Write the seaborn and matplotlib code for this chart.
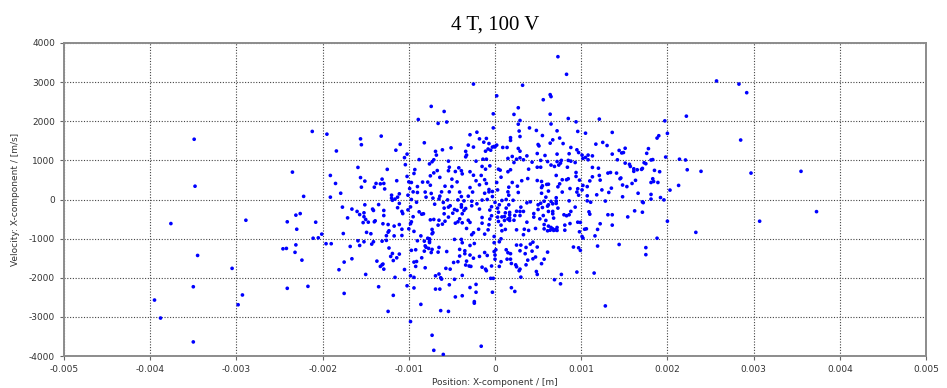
import matplotlib
matplotlib.use("Agg")
import matplotlib.pyplot as plt
import seaborn as sns
import pandas as pd

# Positions in mm (converted to metres below), velocities in m/s
far_left = [(-3.49,1540),(-3.48,340),(-3.76,-615),(-2.89,-530),(-3.45,-1430),(-3.05,-1760),(-3.50,-2230),
    (-3.95,-2570),(-3.88,-3030),(-2.93,-2440),(-2.98,-2690),(-3.50,-3640),(-2.12,1740),(-2.35,700),(-2.22,80),
    (-2.26,-360),(-2.31,-400),(-2.41,-570),(-2.08,-580),(-2.30,-760),(-2.11,-990),(-2.05,-980),(-2.46,-1260),
    (-2.42,-1250),(-2.31,-1160),(-2.32,-1350),(-2.24,-1550),(-2.41,-2270),(-2.17,-2220)]

far_right = [(2.57,3030),(2.83,2950),(2.92,2730),(2.22,2130),(2.85,1520),(2.97,675),(3.55,720),(3.73,-310),
    (3.07,-555),(2.33,-840),(2.39,720),(2.23,760),(2.14,1030),(2.21,1010),(2.13,360),(2.03,240),(2.00,-555),
    (1.88,-990),(1.75,-1230),(1.75,-1410),(1.98,1085),(2.00,1690),(1.97,2010),(1.90,1630),(1.88,1570),
    (1.78,1300),(1.76,1180),(1.83,1020),(1.81,1010),(1.85,745),(1.91,710),(1.83,530),(1.84,460),(1.89,435),
    (1.81,435),(1.73,940),(1.75,915),(1.71,795),(1.70,770),(1.65,760),(1.61,720),(1.61,785),(1.57,845),
    (1.56,900),(1.51,930),(1.51,1310),(1.49,1200),(1.47,1190),(1.46,550),(1.48,370),(1.53,330),(1.59,410),
    (1.63,490),(1.66,160),(1.92,50),(1.96,-10),(1.81,10),(1.81,130),(1.71,-60),(1.72,-80),(1.62,-290),
    (1.71,-325),(1.54,-445),(1.48,70)]

upper_left = [(-1.95,1670),(-1.56,1550),(-1.55,1400),(-1.32,1620),(-1.84,1240),(-1.10,1410),(-1.15,1260),
    (-1.05,1070),(-1.59,820),(-1.91,615),(-1.56,560),(-1.51,470),(-1.85,410),(-1.55,315),(-1.31,520),
    (-1.25,770),(-1.14,480),(-1.04,890),(-1.29,410),(-1.33,400),(-1.38,410),(-1.40,315),(-1.28,270),
    (-1.79,160),(-1.11,145),(-1.20,110),(-1.20,35),(-1.91,60),(-1.16,10),(-1.13,60)]

upper_mid = [(-0.25,2950),(0.32,2920),(0.02,2650),(-0.74,2380),(-0.59,2250),(-0.89,2045),(-0.66,1945),
    (-0.56,1980),(-0.02,2190),(0.22,2175),(0.27,2345),(0.29,2020),(0.27,1925),(0.40,1830),(0.48,1765),
    (0.28,1750),(0.29,1610),(0.18,1580),(0.18,1510),(-0.02,1830),(-0.29,1655),(-0.21,1720),(-0.18,1550),
    (-0.13,1465),(-0.10,1560),(-0.07,1430),(-0.03,1340),(0.00,1345),(0.02,1390),(-0.01,1355),(-0.05,1260),
    (-0.11,1235),(-0.08,1290),(-0.31,1390),(-0.25,1340),(-0.34,1230),(-0.34,1090),(-0.33,1135),(-0.51,1320),
    (-0.61,1270),(-0.82,1450),(-1.02,1160),(-0.69,1230),(-0.68,1135),(-0.88,1020),(-0.71,1015),(-0.73,965),
    (-0.54,980),(-0.22,980),(-0.14,1030),(-0.10,1030),(0.09,1330),(0.14,1330),(0.15,1050),(0.20,1100),
    (0.22,945),(0.25,1030),(0.29,1065),(0.33,1015),(0.37,1115),(0.43,955),(0.49,1175),(0.50,1405),
    (0.27,1305),(0.29,1235),(0.39,775),(0.49,485),(0.31,480),(0.38,535),(0.26,340),(0.27,180),(0.20,435),
    (0.16,315),(0.15,195),(0.16,110),(0.15,710),(0.18,760),(0.06,750),(0.04,775),(0.07,570),(0.02,435),
    (0.03,245),(-0.06,860),(-0.11,775),(-0.15,845),(-0.16,615),(-0.12,505),(-0.10,410),(-0.07,255),
    (-0.07,195),(-0.03,205),(-0.03,75),(-0.12,160),(-0.18,375),(-0.22,480),(-0.25,620),(-0.29,710),
    (-0.29,305),(-0.26,190),(-0.31,85),(-0.39,75),(-0.41,190),(-0.38,655),(-0.39,735),(-0.46,715),
    (-0.42,810),(-0.53,825),(-0.54,735),(-0.50,520),(-0.44,450),(-0.50,330),(-0.58,340),(-0.62,195),
    (-0.64,85),(-0.53,195),(-0.67,740),(-0.71,680),(-0.75,605),(-0.76,910),(-0.93,765),(-0.94,665),
    (-1.02,590),(-1.00,450),(-0.97,435),(-0.84,445),(-0.78,445),(-0.75,365),(-0.90,330),(-0.81,190),
    (-0.74,155),(-0.72,35),(-0.80,60),(-0.90,180),(-0.95,195),(-0.99,280),(-1.01,110),(-0.64,565)]

upper_right = [(0.73,3650),(0.83,3200),(0.64,2680),(0.65,2630),(0.56,2550),(0.64,2180),(0.85,2070),
    (0.65,1930),(0.94,1985),(1.21,2055),(0.55,1635),(0.72,1755),(0.96,1740),(1.05,1695),(1.36,1715),
    (0.64,1440),(0.75,1570),(0.67,1525),(0.79,1430),(0.51,1370),(1.17,1415),(1.25,1460),(1.30,1380),
    (0.58,1125),(0.72,1160),(0.86,1170),(0.88,1330),(0.95,1270),(0.97,1200),(1.01,1135),(1.02,1050),
    (1.05,1075),(1.08,1135),(1.13,1115),(1.36,1160),(1.44,1255),(0.53,1000),(0.61,970),(0.72,970),
    (0.77,1000),(0.85,1000),(1.08,1015),(1.42,1015),(0.49,825),(0.53,825),(0.65,880),(0.69,845),
    (0.74,880),(0.76,930),(0.88,980),(0.84,825),(0.93,945),(1.13,820),(1.20,800),(1.31,675),(1.34,690),
    (1.41,675),(0.54,460),(0.55,350),(0.60,385),(0.62,390),(0.71,615),(0.73,325),(0.75,400),
    (0.78,505),(0.83,505),(0.85,530),(0.78,190),(0.87,280),(0.94,690),(0.94,590),(0.98,495),(1.02,360),
    (1.07,330),(1.01,245),(0.96,275),(0.95,190),(0.97,110),(1.10,475),(1.13,580),(1.21,615),(1.22,495),
    (1.24,245),(1.35,290),(1.45,530),(0.54,305),(0.62,215),(0.54,160),(0.59,60),(0.71,45),(1.07,95),
    (1.18,120),(1.32,180)]

lower_left = [(-2.01,-885),(-1.96,-1130),(-1.90,-1130),(-1.77,-195),(-1.71,-470),(-1.66,-245),(-1.60,-305),
    (-1.57,-385),(-1.52,-340),(-1.51,-135),(-1.42,-245),(-1.41,-280),(-1.52,-440),(-1.50,-510),(-1.53,-590),
    (-1.47,-580),(-1.40,-570),(-1.39,-545),(-1.35,-130),(-1.29,-280),(-1.29,-410),(-1.30,-620),(-1.24,-640),
    (-1.17,-680),(-1.11,-640),(-1.11,-100),(-1.13,-210),(-1.08,-305),(-1.07,-360),(-1.08,-760),(-1.19,-20),
    (-1.76,-870),(-1.49,-840),(-1.44,-875),(-1.68,-1200),(-1.57,-1175),(-1.59,-1055),(-1.52,-1080),
    (-1.43,-1140),(-1.41,-1080),(-1.31,-1065),(-1.26,-1045),(-1.26,-925),(-1.24,-835),(-1.23,-800),
    (-1.17,-930),(-1.08,-920),(-1.23,-1240),(-1.21,-1455),(-1.19,-1380),(-1.18,-1560),(-1.14,-1490),
    (-1.11,-1395),(-1.37,-1575),(-1.31,-1670),(-1.30,-1650),(-1.33,-1710),(-1.29,-1780),(-1.75,-1600),
    (-1.66,-1515),(-1.81,-1795),(-1.50,-1915),(-1.16,-1990),(-1.05,-1790),(-1.75,-2400),(-1.35,-2230),
    (-1.18,-2450),(-1.24,-2860)]

lower_mid = [(-0.98,-3120),(-0.73,-3470),(-0.71,-3855),(-0.60,-3960),(-0.16,-3750),(-0.63,-2840),
    (-0.54,-2860),(-0.86,-2680),(-0.46,-2490),(-0.38,-2460),(-0.24,-2650),(-0.24,-2610),(-0.69,-2290),
    (-0.64,-2290),(-0.53,-2180),(-0.29,-2250),(-0.22,-2170),(-0.22,-2370),(-0.03,-2370),(0.19,-2255),
    (0.23,-2350),(-0.94,-2260),(-1.02,-2205),(-0.94,-1990),(-0.98,-1950),(-0.69,-1950),(-0.65,-1905),
    (-0.63,-2000),(-0.62,-2035),(-0.47,-2040),(-0.38,-1940),(-0.05,-2015),(-0.02,-2015),(-0.92,-1710),
    (-0.94,-1600),(-0.91,-1585),(-0.81,-1745),(-0.85,-1490),(-0.57,-1760),(-0.52,-1780),(-0.48,-1610),
    (-0.43,-1590),(-0.34,-1675),(-0.33,-1575),(-0.30,-1700),(-0.28,-1710),(-0.15,-1730),(-0.11,-1780),
    (-0.10,-1820),(-0.04,-1700),(0.00,-1525),(0.05,-1710),(0.07,-1590),(0.14,-1525),(0.18,-1525),
    (0.19,-1635),(0.24,-1670),(0.25,-1720),(0.29,-1780),(0.28,-1820),(0.30,-1985),(0.36,-1670),
    (0.38,-1550),(0.44,-1515),(0.47,-1470),(0.48,-1840),(0.49,-1915),(0.43,-1320),(0.35,-1385),
    (0.29,-1310),(0.15,-1360),(0.13,-1285),(0.18,-1385),(0.25,-1165),(0.30,-1165),(0.36,-1225),
    (0.41,-1140),(0.49,-1215),(0.44,-1090),(-0.01,-1330),(0.00,-1420),(0.01,-1285),(-0.09,-1430),
    (-0.12,-1355),(-0.18,-1455),(-0.25,-1500),(-0.29,-1420),(-0.35,-1385),(-0.35,-1310),(-0.41,-1445),
    (-0.41,-1275),(-0.38,-1105),(-0.39,-1020),(-0.47,-1020),(-0.56,-1330),(-0.66,-1345),(-0.65,-1225),
    (-0.73,-1275),(-0.74,-1355),(-0.77,-1250),(-0.82,-1320),(-0.81,-1185),(-0.80,-1220),(-0.76,-1100),
    (-0.76,-1065),(-0.78,-990),(-0.76,-1005),(-0.73,-875),(-0.72,-845),(-0.73,-765),(-0.82,-1065),
    (-0.92,-1285),(-0.97,-1300),(-0.90,-1055),(-0.94,-815),(-0.86,-930),(-1.00,-750),(-0.97,-570),
    (-0.98,-620),(-0.95,-440),(-0.98,-190),(-1.01,-265),(-0.88,-315),(-0.85,-375),(-0.83,-365),
    (-0.91,-70),(-0.97,0),(-0.75,-520),(-0.71,-510),(-0.65,-530),(-0.66,-655),(-0.61,-630),(-0.58,-555),
    (-0.54,-450),(-0.59,-365),(-0.59,-220),(-0.54,-195),(-0.60,-75),(-0.70,-120),(-0.65,15),(-0.49,-350),
    (-0.47,-255),(-0.44,-280),(-0.46,-605),(-0.43,-570),(-0.38,-595),(-0.41,-495),(-0.39,-195),
    (-0.38,-365),(-0.36,-280),(-0.36,-35),(-0.39,-135),(-0.52,-160),(-0.43,-10),(-0.55,-10),(-0.34,-230),
    (-0.31,-530),(-0.29,-585),(-0.25,-850),(-0.27,-900),(-0.33,-740),(-0.29,-1175),(-0.24,-1125),
    (-0.27,-45),(-0.27,-160),(-0.21,-110),(-0.18,-245),(-0.15,-460),(-0.15,-605),(-0.19,-760),
    (-0.12,-885),(-0.08,-775),(-0.07,-645),(-0.06,-500),(-0.04,-415),(-0.06,-270),(-0.04,-185),
    (-0.09,0),(-0.15,-15),(0.00,-75),(0.03,-220),(0.04,-325),(0.03,-450),(0.04,-560),(0.07,-655),
    (0.08,-800),(-0.01,-945),(0.05,-1080),(-0.01,-1105),(0.07,-1005),(0.12,-765),(0.11,-535),(0.08,-445),
    (0.11,-435),(0.12,-340),(0.17,-330),(0.17,-390),(0.17,-470),(0.15,-500),(0.17,-535),(0.22,-530),
    (0.23,-410),(0.25,-300),(0.13,-220),(0.16,-135),(0.05,-135),(0.08,-25),(0.29,-410),(0.29,-305),
    (0.30,-195),(0.34,-760),(0.33,-900),(0.37,-580),(0.39,-790),(0.41,-60),(0.45,-360),(0.45,-450),
    (0.47,-740),(0.50,-255),(0.50,-135),(0.25,-775),(0.33,-305),(0.37,-85),(0.21,-20),(0.13,0)]

lower_right = [(1.28,-2720),(0.76,-2155),(0.69,-2050),(0.77,-1915),(0.95,-1855),(1.15,-1880),(0.54,-1640),
    (0.57,-1525),(0.61,-1345),(0.91,-1215),(0.97,-1235),(0.99,-1300),(1.19,-1190),(1.44,-1150),(1.02,-985),
    (1.01,-945),(1.16,-930),(1.19,-765),(1.22,-620),(1.04,-760),(1.06,-750),(0.98,-825),(0.96,-580),
    (0.87,-615),(0.81,-785),(0.81,-655),(0.83,-415),(0.80,-390),(0.86,-390),(0.88,-305),(0.93,-195),
    (0.99,-585),(1.09,-315),(1.10,-375),(1.31,-390),(1.36,-390),(1.36,-655),(1.28,-40),(1.11,-70),
    (1.07,-35),(0.86,-35),(0.71,-40),(0.71,-100),(0.65,-50),(0.62,-135),(0.67,-110),(0.57,-45),(0.53,-95),
    (0.55,-205),(0.62,-305),(0.61,-170),(0.67,-365),(0.67,-305),(0.73,-220),(0.52,-495),(0.56,-410),
    (0.59,-535),(0.62,-680),(0.64,-785),(0.61,-800),(0.65,-715),(0.67,-750),(0.68,-790),(0.70,-775),
    (0.72,-715),(0.72,-790),(0.57,-640),(0.57,-750),(0.68,-475)]

x_ticks = [-0.005, -0.004, -0.003, -0.002, -0.001, 0, 0.001, 0.002, 0.003, 0.004, 0.005]
x_tick_labels = ["-0.005", "-0.004", "-0.003", "-0.002", "-0.001", "0", "0.001", "0.002", "0.003", "0.004", "0.005"]
y_ticks = [-4000, -3000, -2000, -1000, 0, 1000, 2000, 3000, 4000]
y_tick_labels = [str(v) for v in y_ticks]

groups = [far_left, far_right, upper_left, upper_mid, upper_right, lower_left, lower_mid, lower_right]
rows = [(p * 1e-3, v) for g in groups for (p, v) in g]
df = pd.DataFrame(rows, columns=["position", "velocity"])

sns.set_style("white")
plt.rcParams["font.family"] = ["DejaVu Sans"]

fig = plt.figure(figsize=(9.47, 3.88), dpi=100)
ax = fig.add_axes([64 / 947, 1 - 356 / 388, (926 - 64) / 947, (356 - 43) / 388])

sns.scatterplot(data=df, x="position", y="velocity", ax=ax, color="#0000FF",
                s=7, linewidth=0, edgecolor="none", legend=False, zorder=3)

ax.set_xlim(-0.005, 0.005)
ax.set_ylim(-4000, 4000)
ax.set_xticks(x_ticks)
ax.set_xticklabels(x_tick_labels)
ax.set_yticks(y_ticks)
ax.set_yticklabels(y_tick_labels)
ax.tick_params(axis="both", labelsize=6.5, labelcolor="#333333", color="#666666",
               length=3, width=0.8, direction="out", bottom=True, left=True)
ax.grid(True, linestyle=(0, (1, 1.5)), color="#444444", linewidth=0.8, zorder=0)
ax.set_axisbelow(True)
for side, sp in ax.spines.items():
    sp.set_color("#8c8c8c")
    sp.set_linewidth(1.4)

ax.set_xlabel("Position: X-component / [m]", fontsize=6.5, color="#333333", labelpad=3)
ax.set_ylabel("Velocity: X-component / [m/s]", fontsize=6.5, color="#333333", labelpad=6)
ax.set_title("4 T, 100 V", fontsize=15, family="Liberation Serif", color="black", pad=10)

fig.savefig("out.png", dpi=100, facecolor="white")
